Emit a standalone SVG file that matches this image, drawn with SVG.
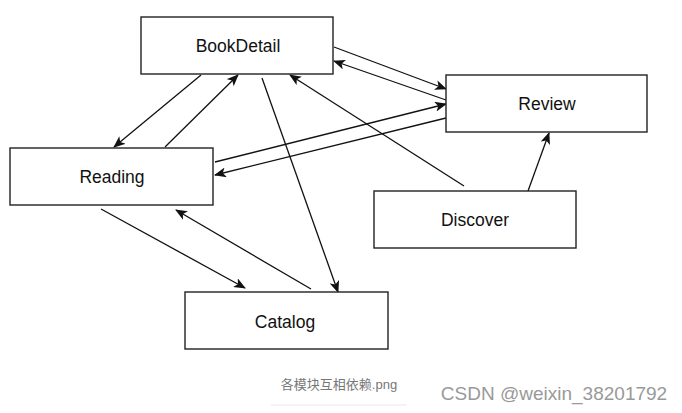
<svg xmlns="http://www.w3.org/2000/svg" width="682" height="413" viewBox="0 0 682 413">
<style>
.box{fill:#fff;stroke:#222;stroke-width:1.4}
.lbl{font-family:"Liberation Sans",Arial,sans-serif;font-size:17.5px;fill:#111;text-anchor:middle;dominant-baseline:central}
.edge{fill:none;stroke:#111;stroke-width:1.3;marker-end:url(#ah)}
</style>
<defs>
<marker id="ah" viewBox="0 0 12 10" refX="11" refY="5" markerWidth="12" markerHeight="10" markerUnits="userSpaceOnUse" orient="auto">
<path d="M0,0 L12,5 L0,10 L3,5 Z" fill="#111"/>
</marker>
</defs>
<rect width="682" height="413" fill="#fff"/>
<g id="connectors">
<line class="edge" x1="334" y1="47" x2="446" y2="89"/>
<line class="edge" x1="446" y1="100" x2="334" y2="61"/>
<line class="edge" x1="215" y1="162" x2="446" y2="104"/>
<line class="edge" x1="446" y1="118" x2="215" y2="175"/>
<line class="edge" x1="201" y1="75" x2="114" y2="147"/>
<line class="edge" x1="165" y1="147" x2="238" y2="75"/>
<line class="edge" x1="262" y1="78" x2="338" y2="292"/>
<line class="edge" x1="464" y1="186" x2="290" y2="75"/>
<line class="edge" x1="528" y1="191" x2="549" y2="133"/>
<line class="edge" x1="101" y1="209" x2="245" y2="288"/>
<line class="edge" x1="311" y1="289" x2="176" y2="210"/>
</g>
<g id="BookDetail"><rect class="box" x="141" y="17" width="192" height="57"/><text class="lbl" x="238" y="46">BookDetail</text></g>
<g id="Review"><rect class="box" x="446" y="75" width="201" height="57"/><text class="lbl" x="547" y="104">Review</text></g>
<g id="Reading"><rect class="box" x="10" y="148" width="203" height="57"/><text class="lbl" x="112" y="177">Reading</text></g>
<g id="Discover"><rect class="box" x="374" y="191" width="202" height="57"/><text class="lbl" x="475" y="220">Discover</text></g>
<g id="Catalog"><rect class="box" x="185" y="292" width="203" height="57"/><text class="lbl" x="285" y="322">Catalog</text></g>
<text x="339" y="384" font-family="'Liberation Sans','Noto Sans CJK SC',sans-serif" font-size="13" fill="#777" text-anchor="middle" dominant-baseline="central">各模块互相依赖.png</text>
<line x1="271" y1="405" x2="407" y2="405" stroke="#e8e8e8" stroke-width="1"/>
<text x="554" y="393" font-family="'Liberation Sans',Arial,sans-serif" font-size="19" fill="#999" text-anchor="middle" dominant-baseline="central">CSDN @weixin_38201792</text>
</svg>
